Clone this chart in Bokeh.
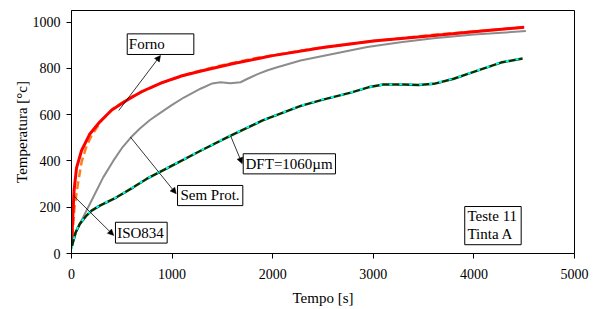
from bokeh.plotting import figure
from bokeh.models import Range1d, FixedTicker, Arrow, NormalHead, Label, BoxAnnotation
from bokeh.embed import file_html
from bokeh.resources import INLINE

# ---- data ----
forno_t = [0, 10, 25, 50, 100, 180, 280, 400, 550, 700, 900, 1100, 1300, 1600, 2000, 2500, 3000, 3500, 4000, 4500]
forno_v = [25, 130, 270, 370, 445, 515, 568, 620, 662, 700, 738, 768, 790, 820, 855, 890, 918, 938, 958, 978]

iso_t = [0, 30, 60, 100, 150, 200, 300, 420, 600, 900, 1200, 1500, 1800, 2400, 3000, 3600, 4200, 4500]
iso_v = [20, 200, 290, 395, 465, 510, 575, 628, 678, 738, 781, 814, 842, 885, 918, 945, 967, 978]

sem_t = [0, 50, 116, 216, 315, 415, 500, 587, 680, 780, 886, 1000, 1117, 1282, 1400, 1480, 1580, 1680, 1750,
         1850, 1950, 2045, 2277, 2608, 2940, 3271, 3600, 4000, 4517]
sem_v = [27, 99, 157, 243, 329, 400, 455, 500, 540, 577, 609, 642, 674, 712, 735, 740, 736, 740, 755,
         775, 792, 805, 834, 863, 892, 913, 930, 946, 961]

dft_t = [0, 40, 83, 149, 200, 282, 448, 614, 746, 1000, 1283, 1582, 1900, 2279, 2500, 2776, 2950, 3100,
         3300, 3450, 3602, 3800, 3940, 4100, 4269, 4484]
dft_meas = [25, 90, 128, 164, 185, 207, 243, 286, 322, 380, 444, 509, 575, 638, 665, 695, 718, 730,
            730, 728, 733, 755, 776, 800, 825, 843]
dft_calc = [20, 92, 130, 165, 186, 208, 244, 287, 323, 381, 445, 510, 576, 639, 666, 696, 719, 730,
            731, 729, 734, 756, 777, 801, 826, 844]

x_ticks = [0, 1000, 2000, 3000, 4000, 5000]
y_ticks = [0, 200, 400, 600, 800, 1000]

FONT = "Liberation Serif"

p = figure(frame_width=503, frame_height=243,
           x_range=Range1d(0, 5000), y_range=Range1d(0, 1050),
           output_backend="svg", toolbar_location=None,
           min_border_left=71, min_border_right=19, min_border_top=10, min_border_bottom=48)
p.grid.visible = False
p.outline_line_color = "black"
p.outline_line_width = 1
p.background_fill_color = "white"
p.border_fill_color = "white"

p.xaxis.ticker = FixedTicker(ticks=x_ticks)
p.yaxis.ticker = FixedTicker(ticks=y_ticks)
for ax in (p.xaxis[0], p.yaxis[0]):
    ax.axis_line_color = "black"
    ax.major_tick_line_color = "black"
    ax.major_tick_out = 5
    ax.major_tick_in = 0
    ax.minor_tick_line_color = None
    ax.major_label_text_font = FONT
    ax.major_label_text_font_size = "14px"
    ax.major_label_text_color = "black"
    ax.axis_label_text_font = FONT
    ax.axis_label_text_font_size = "15px"
    ax.axis_label_text_font_style = "normal"
    ax.axis_label_text_color = "black"
p.xaxis.axis_label = "Tempo [s]"
p.yaxis.axis_label = "Temperatura [°c]"
p.xaxis.major_label_standoff = 10
p.yaxis.major_label_standoff = 6
p.xaxis.axis_label_standoff = 8
p.yaxis.axis_label_standoff = 0

# ---- curves ----
p.line(sem_t, sem_v, line_color="#8c8c8c", line_width=2)
p.line(iso_t, iso_v, line_color="#ff7f1e", line_width=2.5, line_dash="8 4")
p.line(forno_t, forno_v, line_color="#ff0000", line_width=3)
p.line(dft_t, dft_meas, line_color="#003300", line_width=2.5)
p.line(dft_t, dft_calc, line_color="#00ffff", line_width=2, line_dash="3 7")

# ---- annotations ----
annots = [
    dict(text=["Forno"], box=(554, 1216, 949, 860), tx=570, ty=[904], arrow=(470, 618, 885, 856)),
    dict(text=["Sem Prot."], box=(1054, 1703, 294, 207), tx=1083, ty=[251], arrow=(586, 503, 1041, 258)),
    dict(text=["ISO834"], box=(437, 951, 135, 45), tx=454, ty=[90], arrow=(17, 251, 420, 78)),
    dict(text=["DFT=1060µm"], box=(1707, 2624, 431, 344), tx=1730, ty=[388], arrow=(1580, 510, 1697, 388)),
    dict(text=["Teste 11", "Tinta A"], box=(3909, 4470, 203, 38), tx=3936, ty=[164, 85], arrow=None),
]
for a in annots:
    if a["arrow"]:
        xs, ys, xe, ye = a["arrow"]
        p.add_layout(Arrow(end=NormalHead(size=6, fill_color="black", line_color="black", line_width=0.5),
                           x_start=xs, y_start=ys, x_end=xe, y_end=ye,
                           line_color="black", line_width=0.8))
for a in annots:
    l, r, t, b = a["box"]
    p.add_layout(BoxAnnotation(left=l, right=r, top=t, bottom=b,
                               fill_color="white", fill_alpha=1.0,
                               line_color="black", line_alpha=1.0, line_width=1))
    for txt, yy in zip(a["text"], a["ty"]):
        p.add_layout(Label(x=a["tx"], y=yy, text=txt, text_font=FONT, text_font_size="15px",
                           text_baseline="middle", text_align="left", text_color="black"))

open("out.html", "w").write(file_html(p, INLINE))
